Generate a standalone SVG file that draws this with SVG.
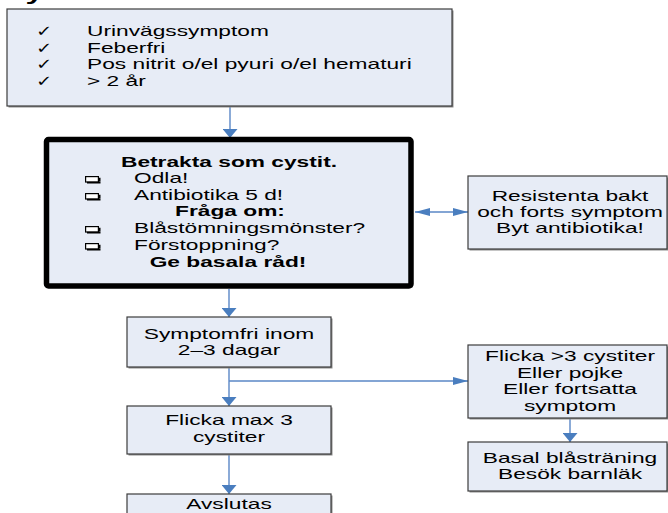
<svg xmlns="http://www.w3.org/2000/svg" width="668" height="513" viewBox="0 0 668 513">
<style>
.box{fill:#E7ECF6;stroke:#3c3c3c;stroke-width:1.2}
.sh{fill:#8c8c8c}
.main{fill:#E7ECF6;stroke:#000;stroke-width:5.5}
.t{font-family:"Liberation Sans",Arial,sans-serif;font-size:14px;fill:#000}
.c{text-anchor:middle}
.b{font-weight:bold}
.g{font-family:"DejaVu Sans",sans-serif;font-size:15px;fill:#000}
.cn{stroke:#5A87C6;stroke-width:1.4;fill:none}
.ar{fill:#4A7EBF}
</style>
<defs>
<marker id="av" viewBox="0 0 9 15" refX="9" refY="7.5" markerWidth="9" markerHeight="15" markerUnits="userSpaceOnUse" orient="auto"><path class="ar" d="M0,0 L9,7.5 L0,15 z"/></marker>
<marker id="ah" viewBox="0 0 15 8" refX="15" refY="4" markerWidth="15" markerHeight="8" markerUnits="userSpaceOnUse" orient="auto-start-reverse"><path class="ar" d="M0,0 L15,4 L0,8 z"/></marker>
<g id="cb">
<rect x="0.6" y="0.6" width="12.8" height="5.4" fill="#fff" stroke="#000" stroke-width="1.2"/>
<path d="M2,6 H15.5 V1.8 H13.4 V6.6 H2 Z M2,5.8 H15.5 V7.6 H2 Z" fill="#000"/>
</g>
</defs>

<text class="t b" style="font-size:20px" transform="translate(2 0) scale(1.625 1)">Cystit</text>

<g id="connectors">
<path class="cn" d="M230,106 L230,138" marker-end="url(#av)"/>
<path class="cn" d="M415,212 L468,212" marker-start="url(#ah)" marker-end="url(#ah)"/>
<path class="cn" d="M229,289 L229,317" marker-end="url(#av)"/>
<path class="cn" d="M229,367 L229,406" marker-end="url(#av)"/>
<path class="cn" d="M229,381 L468,381" marker-end="url(#ah)"/>
<path class="cn" d="M229,454 L229,494" marker-end="url(#av)"/>
<path class="cn" d="M570,418 L570,442" marker-end="url(#av)"/>
</g>

<g id="criteria">
<rect class="sh" x="8.5" y="10.5" width="445" height="97"/>
<rect class="box" x="7" y="9" width="445" height="97"/>
<text class="g" transform="translate(36 36) scale(1.3 1)">✓</text>
<text class="g" transform="translate(36 52.5) scale(1.3 1)">✓</text>
<text class="g" transform="translate(36 69) scale(1.3 1)">✓</text>
<text class="g" transform="translate(36 85.5) scale(1.3 1)">✓</text>
<text class="t" transform="translate(87 36) scale(1.625 1)">Urinvägssymptom</text>
<text class="t" transform="translate(87 52.5) scale(1.625 1)">Feberfri</text>
<text class="t" transform="translate(87 69) scale(1.625 1)">Pos nitrit o/el pyuri o/el hematuri</text>
<text class="t" transform="translate(87 85.5) scale(1.625 1)">&gt; 2 år</text>
</g>

<g id="cystit">
<rect class="sh" x="48.5" y="141.5" width="364.5" height="146.5" rx="2"/>
<rect class="main" x="46.5" y="139.5" width="364.5" height="146.5" rx="2"/>
<text class="t b c" transform="translate(229 167) scale(1.625 1)">Betrakta som cystit.</text>
<use href="#cb" x="85" y="176"/>
<text class="t" transform="translate(134 183) scale(1.625 1)">Odla!</text>
<use href="#cb" x="85" y="193"/>
<text class="t" transform="translate(134 200) scale(1.625 1)">Antibiotika 5 d!</text>
<text class="t b c" transform="translate(230 216) scale(1.625 1)">Fråga om:</text>
<use href="#cb" x="85" y="226"/>
<text class="t" transform="translate(134 233) scale(1.625 1)">Blåstömningsmönster?</text>
<use href="#cb" x="85" y="243"/>
<text class="t" transform="translate(134 250) scale(1.625 1)">Förstoppning?</text>
<text class="t b c" transform="translate(228 267) scale(1.625 1)">Ge basala råd!</text>
</g>

<g id="resistenta">
<rect class="sh" x="469.5" y="177.5" width="199" height="73"/>
<rect class="box" x="468" y="176" width="199" height="73"/>
<text class="t c" transform="translate(570 201) scale(1.625 1)">Resistenta bakt</text>
<text class="t c" transform="translate(570 217) scale(1.625 1)">och forts symptom</text>
<text class="t c" transform="translate(570 233) scale(1.625 1)">Byt antibiotika!</text>
</g>

<g id="symptomfri">
<rect class="sh" x="128.5" y="318.5" width="204" height="50"/>
<rect class="box" x="127" y="317" width="204" height="50"/>
<text class="t c" transform="translate(229 338.5) scale(1.625 1)">Symptomfri inom</text>
<text class="t c" transform="translate(229 355) scale(1.625 1)">2–3 dagar</text>
</g>

<g id="flicka-max3">
<rect class="sh" x="128.5" y="407.5" width="204" height="48"/>
<rect class="box" x="127" y="406" width="204" height="48"/>
<text class="t c" transform="translate(229 425) scale(1.625 1)">Flicka max 3</text>
<text class="t c" transform="translate(229 441.5) scale(1.625 1)">cystiter</text>
</g>

<g id="avslutas">
<rect class="sh" x="128.5" y="495.5" width="204" height="30"/>
<rect class="box" x="127" y="494" width="204" height="30"/>
<text class="t c" transform="translate(229 509) scale(1.625 1)">Avslutas</text>
</g>

<g id="flicka-over3">
<rect class="sh" x="469.5" y="346.5" width="199" height="73"/>
<rect class="box" x="468" y="345" width="199" height="73"/>
<text class="t c" transform="translate(570 360.5) scale(1.625 1)">Flicka &gt;3 cystiter</text>
<text class="t c" transform="translate(570 377.5) scale(1.625 1)">Eller pojke</text>
<text class="t c" transform="translate(570 394) scale(1.625 1)">Eller fortsatta</text>
<text class="t c" transform="translate(570 410.5) scale(1.625 1)">symptom</text>
</g>

<g id="basal">
<rect class="sh" x="469.5" y="443.5" width="199" height="49"/>
<rect class="box" x="468" y="442" width="199" height="49"/>
<text class="t c" transform="translate(570 462.5) scale(1.625 1)">Basal blåsträning</text>
<text class="t c" transform="translate(570 478.5) scale(1.625 1)">Besök barnläk</text>
</g>
</svg>
